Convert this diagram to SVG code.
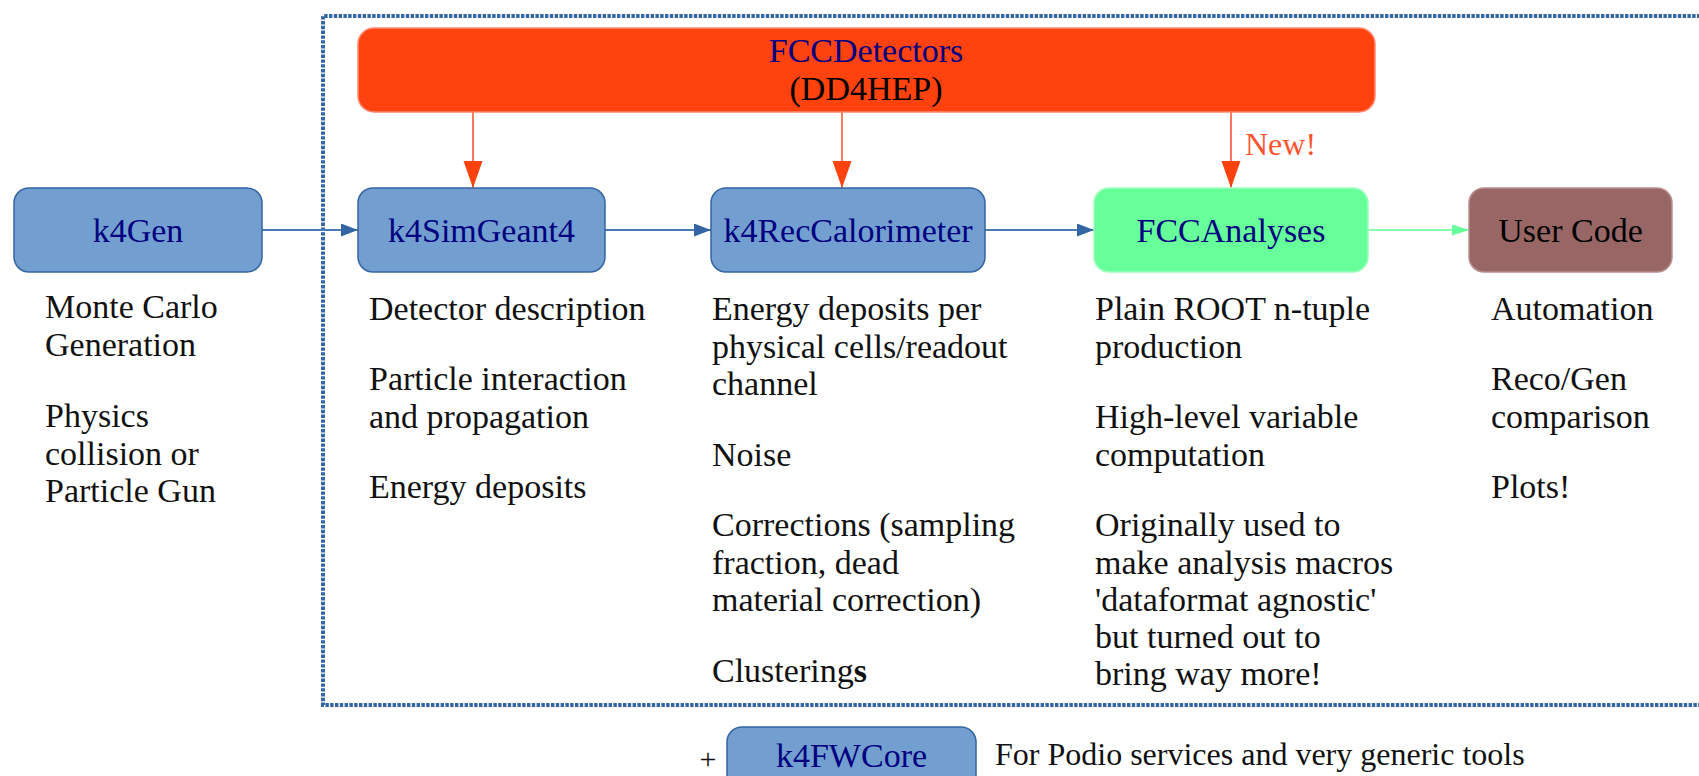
<svg xmlns="http://www.w3.org/2000/svg" width="1699" height="776" viewBox="0 0 1699 776" font-family="'Liberation Serif', 'Times New Roman', serif">
<defs>
<style>
text{font-family:"Liberation Serif","Times New Roman",serif;}
.lbl{font-size:34px;fill:#000080;text-anchor:middle;}
.desc{font-size:34px;fill:#111;}
.blue{fill:#729fcf;stroke:#3465a4;stroke-width:1.5;}
.conn-blue{stroke:#4a7ab4;stroke-width:2;fill:none;}
.conn-orange{stroke:#ff7a5c;stroke-width:2;fill:none;}
.conn-green{stroke:#88ffb0;stroke-width:2;fill:none;}
</style>
<marker id="ahBlue" markerUnits="userSpaceOnUse" markerWidth="18" markerHeight="14" refX="17" refY="6.5" orient="auto"><path d="M0,0 L17,6.5 L0,13 z" fill="#3465a4"/></marker>
<marker id="ahGreen" markerUnits="userSpaceOnUse" markerWidth="18" markerHeight="12" refX="17" refY="5.5" orient="auto"><path d="M0,0 L17,5.5 L0,11 z" fill="#66ff99"/></marker>
<marker id="ahOrange" markerUnits="userSpaceOnUse" markerWidth="28" markerHeight="20" refX="27" refY="9.5" orient="auto"><path d="M0,0 L27,9.5 L0,19 z" fill="#ff420e"/></marker>
</defs>
<rect width="1699" height="776" fill="#fff"/>

<g id="frame">
<path d="M1710,16 H323 V705 H1710" fill="none" stroke="#3465a4" stroke-width="4" stroke-dasharray="3.4 1.4"/>
</g>

<g id="connectors">
<line class="conn-blue" x1="262" y1="230" x2="358" y2="230" marker-end="url(#ahBlue)"/>
<line class="conn-blue" x1="605" y1="230" x2="711" y2="230" marker-end="url(#ahBlue)"/>
<line class="conn-blue" x1="985" y1="230" x2="1094" y2="230" marker-end="url(#ahBlue)"/>
<line class="conn-green" x1="1368" y1="230" x2="1469" y2="230" marker-end="url(#ahGreen)"/>
<line class="conn-orange" x1="473" y1="111" x2="473" y2="188" marker-end="url(#ahOrange)"/>
<line class="conn-orange" x1="842" y1="111" x2="842" y2="188" marker-end="url(#ahOrange)"/>
<line class="conn-orange" x1="1231" y1="111" x2="1231" y2="188" marker-end="url(#ahOrange)"/>
<text x="1245" y="155" font-size="32" fill="#ff5533">New!</text>
</g>

<g id="fccdetectors">
<rect x="358" y="28" width="1017" height="84" rx="16" fill="#ff420e" stroke="#ff8a70" stroke-width="1.5"/>
<text class="lbl" x="866" y="62">FCCDetectors</text>
<text class="lbl" x="866" y="100" style="fill:#000">(DD4HEP)</text>
</g>

<g id="k4gen">
<rect class="blue" x="14" y="188" width="248" height="84" rx="15"/>
<text class="lbl" x="138" y="242">k4Gen</text>
</g>

<g id="k4simgeant4">
<rect class="blue" x="358" y="188" width="247" height="84" rx="15"/>
<text class="lbl" x="481.5" y="242">k4SimGeant4</text>
</g>

<g id="k4reccalorimeter">
<rect class="blue" x="711" y="188" width="274" height="84" rx="15"/>
<text class="lbl" x="848" y="242">k4RecCalorimeter</text>
</g>

<g id="fccanalyses">
<rect x="1094" y="188" width="274" height="84" rx="15" fill="#66ff99" stroke="#a0ffc0" stroke-width="1.5"/>
<text class="lbl" x="1231" y="242">FCCAnalyses</text>
</g>

<g id="usercode">
<rect x="1469" y="188" width="203" height="84" rx="15" fill="#996666" stroke="#b89090" stroke-width="1.5"/>
<text class="lbl" x="1570.5" y="242" style="fill:#000">User Code</text>
</g>

<g id="desc-k4gen">
<text class="desc" x="45" y="318">Monte Carlo</text>
<text class="desc" x="45" y="355.5">Generation</text>
<text class="desc" x="45" y="427">Physics</text>
<text class="desc" x="45" y="464.5">collision or</text>
<text class="desc" x="45" y="502">Particle Gun</text>
</g>

<g id="desc-k4simgeant4">
<text class="desc" x="369" y="320">Detector description</text>
<text class="desc" x="369" y="390">Particle interaction</text>
<text class="desc" x="369" y="427.5">and propagation</text>
<text class="desc" x="369" y="498">Energy deposits</text>
</g>

<g id="desc-k4reccalorimeter">
<text class="desc" x="712" y="320">Energy deposits per</text>
<text class="desc" x="712" y="357.5">physical cells/readout</text>
<text class="desc" x="712" y="395">channel</text>
<text class="desc" x="712" y="466">Noise</text>
<text class="desc" x="712" y="536">Corrections (sampling</text>
<text class="desc" x="712" y="573.5">fraction, dead</text>
<text class="desc" x="712" y="611">material correction)</text>
<text class="desc" x="712" y="682">Clustering<tspan font-weight="bold">s</tspan></text>
</g>

<g id="desc-fccanalyses">
<text class="desc" x="1095" y="320">Plain ROOT n-tuple</text>
<text class="desc" x="1095" y="357.5">production</text>
<text class="desc" x="1095" y="428">High-level variable</text>
<text class="desc" x="1095" y="465.5">computation</text>
<text class="desc" x="1095" y="536">Originally used to</text>
<text class="desc" x="1095" y="573.5">make analysis macros</text>
<text class="desc" x="1095" y="611">'dataformat agnostic'</text>
<text class="desc" x="1095" y="648">but turned out to</text>
<text class="desc" x="1095" y="685">bring way more!</text>
</g>

<g id="desc-usercode">
<text class="desc" x="1491" y="320">Automation</text>
<text class="desc" x="1491" y="390">Reco/Gen</text>
<text class="desc" x="1491" y="427.5">comparison</text>
<text class="desc" x="1491" y="498">Plots!</text>
</g>

<g id="k4fwcore">
<text x="708" y="769" font-size="30" fill="#111" text-anchor="middle">+</text>
<rect class="blue" x="727" y="727" width="249" height="84" rx="15"/>
<text class="lbl" x="851.5" y="767">k4FWCore</text>
<text x="995" y="765" font-size="32" fill="#111">For Podio services and very generic tools</text>
</g>
</svg>
